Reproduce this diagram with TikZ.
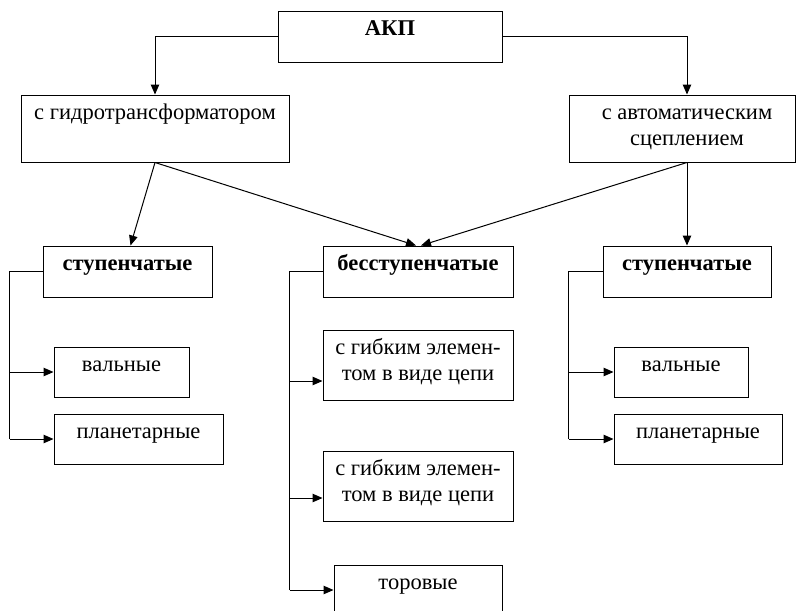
\documentclass[tikz,border=0pt]{standalone}
\usepackage{fontspec}
\setmainfont{Liberation Serif}
\usetikzlibrary{arrows.meta}

\tikzset{
    box/.style={draw, line width=1pt, inner sep=0pt},
    txt/.style={anchor=north, inner sep=0pt, yshift=-10pt, text height=15pt, text depth=5pt, align=center,
        font=\fontsize{22.5}{26}\selectfont},
    twoline/.style={text height=41pt},
    arr/.style={line width=1pt, -{Triangle[length=10pt,width=8.5pt]}},
    ln/.style={line width=1pt}
}

\begin{document}
\begin{tikzpicture}[x=1pt, y=-1pt]

    \clip (0,0) rectangle (796,611);
    \fill[white] (0,0) rectangle (796,611);

    % top
    \node[box, minimum width=224pt, minimum height=51pt] (akp) at (390,36.5) {};
    \node[txt] (akpt) at (akp.north) {\textbf{АКП}};

    \node[box, minimum width=268pt, minimum height=67pt] (hydro) at (155,128.5) {};
    \node[txt] (hydrot) at (hydro.north) {с гидротрансформатором};

    \node[box, minimum width=226pt, minimum height=67pt] (auto) at (682,128.5) {};
    \coordinate (autotop) at ([xshift=5pt]auto.north);
    \coordinate (autobot) at ([xshift=5pt]auto.south);
    \node[txt, twoline] (autot) at (autotop) {с автоматическим\\сцеплением};

    \draw[arr] (akp.west) -| (hydro.north);
    \draw[arr] (akp.east) -| (autotop);

    % second row
    \node[box, minimum width=169pt, minimum height=51pt] (stepl) at (127.5,271.5) {};
    \node[txt] (steplt) at (stepl.north) {\textbf{ступенчатые}};

    \node[box, minimum width=190pt, minimum height=51pt] (nostep) at (418,271.5) {};
    \node[txt] (nostept) at (nostep.north) {\textbf{бесступенчатые}};

    \node[box, minimum width=168pt, minimum height=51pt] (stepr) at (687,271.5) {};
    \node[txt] (steprt) at (stepr.north) {\textbf{ступенчатые}};

    \draw[arr] (hydro.south) -- ([xshift=3pt]stepl.north);
    \draw[arr] (hydro.south) -- ([xshift=-2pt]nostep.north);
    \draw[arr] (autobot) -- ([xshift=3pt]nostep.north);
    \draw[arr] (autobot) -- (stepr.north);

    % left branch
    \node[box, minimum width=135pt, minimum height=50pt] (vall) at (121.5,372) {};
    \node[txt] (vallt) at (vall.north) {вальные};
    \node[box, minimum width=169pt, minimum height=50pt] (planl) at (138.5,439) {};
    \node[txt] (planlt) at (planl.north) {планетарные};

    \draw[ln] (stepl.west) -- ++(-33,0) coordinate (bl) -- (bl |- planl.west);
    \draw[arr] (bl |- vall.west) -- (vall.west);
    \draw[arr] (bl |- planl.west) -- (planl.west);

    % middle branch
    \node[box, minimum width=190pt, minimum height=70pt] (chaina) at (418,365) {};
    \node[txt, twoline] (chainat) at (chaina.north) {с гибким элемен-\\том в виде цепи};
    \node[box, minimum width=190pt, minimum height=70pt] (chainb) at (418,486) {};
    \node[txt, twoline] (chainbt) at (chainb.north) {с гибким элемен-\\том в виде цепи};
    \node[box, minimum width=168pt, minimum height=50pt] (tor) at (418,590) {};
    \node[txt] (tort) at (tor.north) {торовые};

    \coordinate (ina) at ([yshift=-16pt]chaina.west);
    \coordinate (inb) at ([yshift=-12pt]chainb.west);

    \draw[ln] (nostep.west) -- ++(-33,0) coordinate (bm) -- (bm |- tor.west);
    \draw[arr] (bm |- ina) -- (ina);
    \draw[arr] (bm |- inb) -- (inb);
    \draw[arr] (bm |- tor.west) -- (tor.west);

    % right branch
    \node[box, minimum width=134pt, minimum height=50pt] (valr) at (681,372) {};
    \node[txt] (valrt) at (valr.north) {вальные};
    \node[box, minimum width=168pt, minimum height=50pt] (planr) at (698,439) {};
    \node[txt] (planrt) at (planr.north) {планетарные};

    \draw[ln] (stepr.west) -- ++(-34,0) coordinate (br) -- (br |- planr.west);
    \draw[arr] (br |- valr.west) -- (valr.west);
    \draw[arr] (br |- planr.west) -- (planr.west);

\end{tikzpicture}
\end{document}
